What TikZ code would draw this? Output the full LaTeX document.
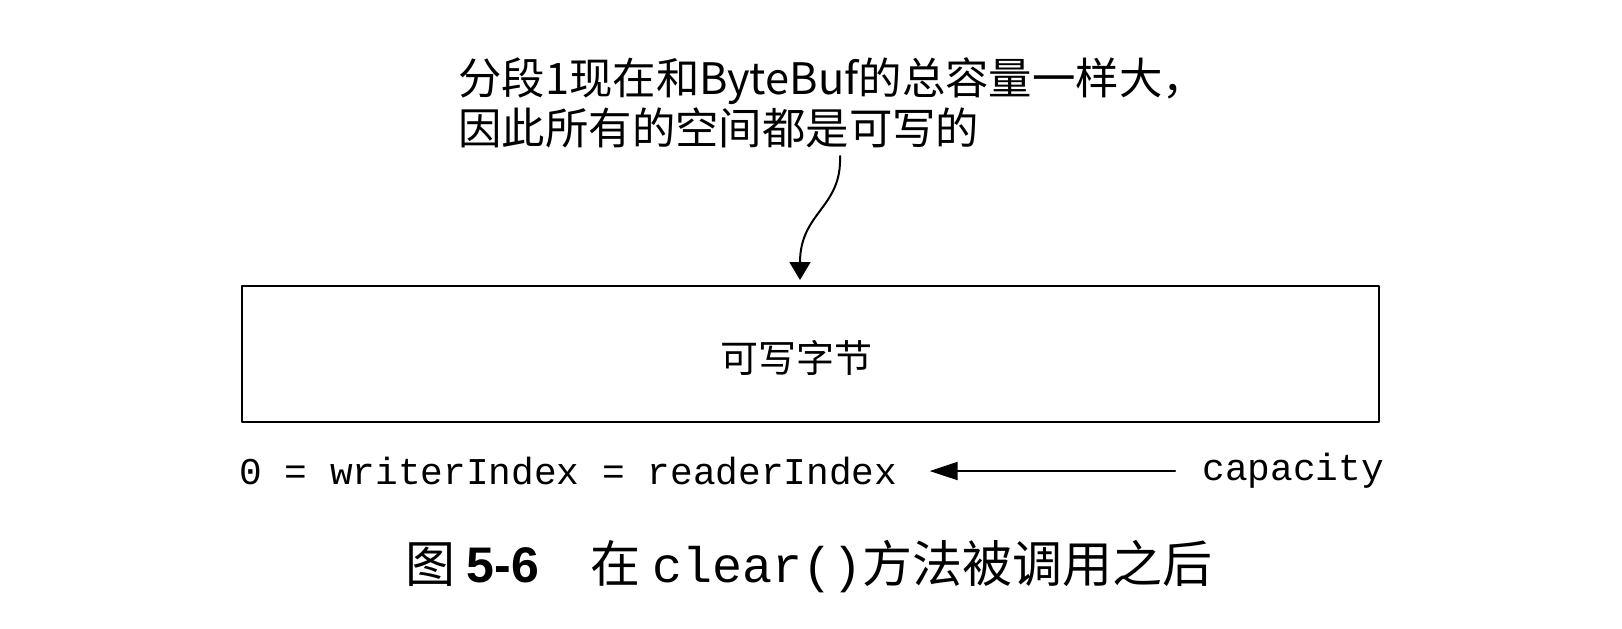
\documentclass[tikz,border=0pt]{standalone}
\usepackage{fontspec}
\setmainfont{Liberation Sans}
\setmonofont{Liberation Mono}
\newfontfamily\cjk{Noto Sans CJK SC}
\usetikzlibrary{arrows.meta}

\begin{document}
\begin{tikzpicture}[line cap=round,line join=round,x=0.5pt,y=-0.5pt,
    callout/.style={line width=1pt,-{Triangle[length=9pt,width=10.5pt]}},
    pointer/.style={line width=1pt,-{Triangle[length=14pt,width=9pt]}},
    note/.style={font=\cjk\fontsize{21.7pt}{25pt}\selectfont,align=left,inner sep=0pt},
    mono/.style={font=\ttfamily\fontsize{18.9pt}{20pt}\selectfont,inner sep=0pt}]
                \useasboundingbox (0,0) rectangle (1622,628);
                % buffer
                \draw [line width=1pt] (242,286) rectangle (1379,422);
                \node[font=\cjk\fontsize{19pt}{20pt}\selectfont,inner sep=0pt] (bytes) at (796,358) {可写字节};
                % callout
                \node[note,anchor=west] (segnote) at (458,103) {分段1现在和ByteBuf的总容量一样大，\\因此所有的空间都是可写的};
                \coordinate (curvestart) at (840,156);
                \coordinate (curveend) at (800,280);
                \draw [callout] (curvestart) .. controls (842,208) and (800,212) .. (curveend);
                % indices
                \node[mono,anchor=west] (indexes) at (239,471) {0 = writerIndex = readerIndex};
                \node[mono,anchor=west] (cap) at (1202,471) {capacity};
                \draw [pointer] ([xshift=-13.5pt]cap.west) -- ([xshift=16pt]indexes.east);
                % caption
                \node[font=\cjk\fontsize{25pt}{27pt}\selectfont,inner sep=0pt,anchor=west] (caption) at (405,567)
                    {图 {\rmfamily\bfseries 5-6}\hspace{26pt}在 {\ttfamily clear()}方法被调用之后};
\end{tikzpicture}
\end{document}
